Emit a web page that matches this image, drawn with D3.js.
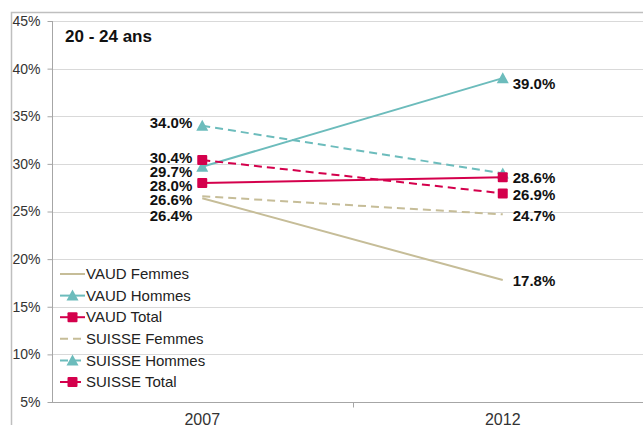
<!DOCTYPE html>
<html>
  <head>
    <meta charset="utf-8">
    <title>20 - 24 ans</title>
    <style>
    body { margin: 0; background: #fff; }
    svg { font-family: "Liberation Sans", Arial, sans-serif; }
    .grid line { stroke: #d9d9d9; stroke-width: 1; }
    .axis path, .axis line { stroke: #a6a6a6; }
    .axis text { fill: #333; }
    .lbl { font-weight: bold; font-size: 15px; fill: #111; }
    .legend text { font-size: 15px; fill: #222; }
    </style>
    <script src="https://d3js.org/d3.v7.min.js"></script>
  </head>
  <body>
    <svg width="643" height="425"></svg>
    <script>
      var years = ["2007", "2012"];
      var yTicks = [5, 10, 15, 20, 25, 30, 35, 40, 45];

      var names = ["VAUD Femmes", "VAUD Hommes", "VAUD Total", "SUISSE Femmes", "SUISSE Hommes", "SUISSE Total"];
      var vaudFemmes = [26.4, 17.8];
      var vaudHommes = [29.7, 39.0];
      var vaudTotal = [28.0, 28.6];
      var suisseFemmes = [26.6, 24.7];
      var suisseHommes = [34.0, 29.0];
      var suisseTotal = [30.4, 26.9];
      // which end labels are shown (SUISSE Hommes 2012 is hidden behind VAUD Total)
      var showLabel = [[true, true], [true, true], [true, true], [true, true], [true, false], [true, true]];

      var values = [vaudFemmes, vaudHommes, vaudTotal, suisseFemmes, suisseHommes, suisseTotal];

      // styling per series
      var tan = "#c6bd98", teal = "#6cbcbc", red = "#d4004c";
      var style = [
        {color: tan, dash: null, marker: null},
        {color: teal, dash: null, marker: "tri"},
        {color: red, dash: null, marker: "sq"},
        {color: tan, dash: "8,5", marker: null},
        {color: teal, dash: "8,5", marker: "tri"},
        {color: red, dash: "8,5", marker: "sq"}
      ];
      // vertical nudges of the value labels so they don't overlap
      var labelDy = [[18, 1], [5, 6], [3, 1], [3, 1], [-3, 0], [-2, 1]];

      var svg = d3.select("svg");
      var margin = {left: 52, top: 21, right: -10, bottom: 23};
      var W = 643, H = 425;

      var x = d3.scaleBand().domain(years).range([margin.left, W - margin.right]);
      var y = d3.scaleLinear().domain([5, 45]).range([H - margin.bottom, margin.top]);

      // outer chart border
      svg.append("path")
        .attr("d", "M11.5," + H + "V12.5H" + W)
        .attr("fill", "none")
        .attr("stroke", "#bfbfbf")
        .attr("stroke-width", 1.5);

      svg.append("g").attr("class", "grid")
        .selectAll("line")
        .data(yTicks.slice(1))
        .enter().append("line")
          .attr("x1", margin.left).attr("x2", W)
          .attr("y1", function(d) { return Math.round(y(d)) + 0.5; })
          .attr("y2", function(d) { return Math.round(y(d)) + 0.5; });

      var yAxis = svg.append("g").attr("class", "axis")
        .attr("transform", "translate(" + (margin.left + 0.5) + ",0)")
        .call(d3.axisLeft(y).tickValues(yTicks).tickSize(5).tickPadding(7)
          .tickFormat(function(d) { return d + "%"; }));
      yAxis.select(".domain").attr("d", "M0," + y(5) + "V" + y(45));
      yAxis.selectAll("text").style("font-size", "14px").style("font-family", "Liberation Sans, Arial, sans-serif");

      var xAxis = svg.append("g").attr("class", "axis")
        .attr("transform", "translate(0," + (Math.round(y(5)) + 0.5) + ")");
      xAxis.append("line").attr("x1", margin.left).attr("x2", W);
      xAxis.selectAll(".tk").data(years.slice(1)).enter().append("line")
        .attr("x1", function(d) { return Math.round(x(d)) + 0.5; })
        .attr("x2", function(d) { return Math.round(x(d)) + 0.5; })
        .attr("y1", 0).attr("y2", 5);
      xAxis.selectAll("text").data(years).enter().append("text")
        .attr("x", function(d) { return x(d) + x.bandwidth() / 2; })
        .attr("y", 22.5)
        .attr("text-anchor", "middle")
        .style("font-size", "16px")
        .text(function(d) { return d; });

      var cx = function(i) { return x(years[i]) + x.bandwidth() / 2; };

      function drawMarker(g, kind, px, py, color) {
        if (kind === "sq") {
          g.append("rect").attr("x", px - 5).attr("y", py - 5).attr("width", 10).attr("height", 10)
            .attr("rx", 1).attr("fill", color);
        } else if (kind === "tri") {
          g.append("path").attr("d", "M" + px + "," + (py - 6) + "L" + (px + 6) + "," + (py + 5) + "L" + (px - 6) + "," + (py + 5) + "Z")
            .attr("fill", color);
        }
      }

      var line = d3.line().x(function(d, i) { return cx(i); }).y(function(d) { return y(d); });

      var series = svg.append("g");
      [3, 0, 4, 1, 5, 2].forEach(function(s) {
        var g = series.append("g");
        g.append("path").datum(values[s])
          .attr("d", line)
          .attr("fill", "none")
          .attr("stroke", style[s].color)
          .attr("stroke-width", 2)
          .attr("stroke-dasharray", style[s].dash);
        values[s].forEach(function(v, i) {
          drawMarker(g, style[s].marker, cx(i), y(v), style[s].color);
        });
      });

      var labels = svg.append("g");
      values.forEach(function(vals, s) {
        vals.forEach(function(v, i) {
          if (!showLabel[s][i]) return;
          labels.append("text").attr("class", "lbl")
            .attr("x", i === 0 ? cx(i) - 10 : cx(i) + 10)
            .attr("y", y(v) + labelDy[s][i])
            .attr("dy", "0.35em")
            .attr("text-anchor", i === 0 ? "end" : "start")
            .text(v.toFixed(1) + "%");
        });
      });

      svg.append("text")
        .attr("x", 65).attr("y", 42)
        .style("font-size", "17px").style("font-weight", "bold").attr("fill", "#111")
        .text("20 - 24 ans");

      var legend = svg.append("g").attr("class", "legend");
      names.forEach(function(n, s) {
        var ly = 274 + s * 21.6;
        var g = legend.append("g");
        g.append("line").attr("x1", 60).attr("x2", 85).attr("y1", ly).attr("y2", ly)
          .attr("stroke", style[s].color).attr("stroke-width", 2)
          .attr("stroke-dasharray", style[s].dash ? "8,5" : null);
        drawMarker(g, style[s].marker, 72.5, ly, style[s].color);
        g.append("text").attr("x", 86).attr("y", ly).attr("dy", "0.35em").text(n);
      });
    </script>
  </body>
</html>
